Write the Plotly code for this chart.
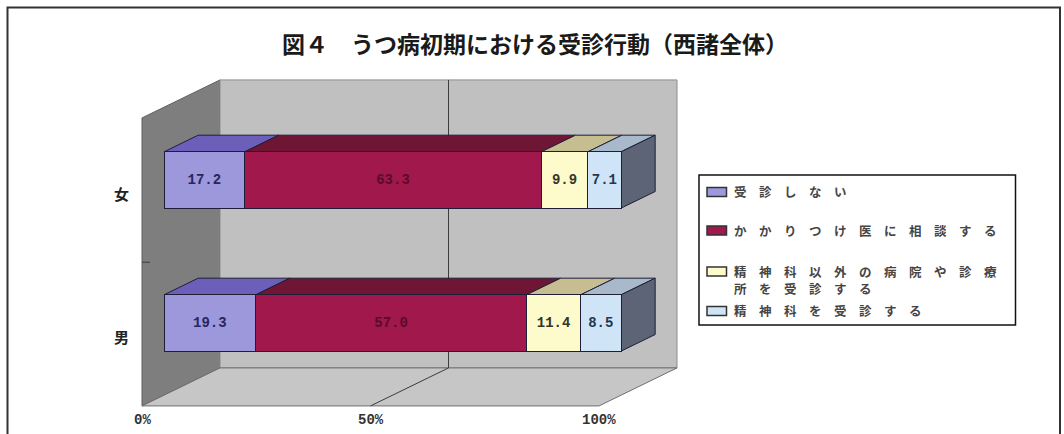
import plotly.graph_objects as go

# ---- data ---------------------------------------------------------------
categories = ["女", "男"]                      # listed top to bottom
series_names = [
    "受診しない",
    "かかりつけ医に相談する",
    "精神科以外の病院や診療所を受診する",
    "精神科を受診する",
]
female = [17.2, 63.3, 9.9, 7.1]
male = [19.3, 57.0, 11.4, 8.5]
tick_values = [0, 50, 100]
tick_labels = ["0%", "50%", "100%"]
title_text = "図４　うつ病初期における受診行動（西諸全体）"

values_by_cat = {"女": female, "男": male}

# ---- styling ------------------------------------------------------------
front_colors = ["#9d98dc", "#a0184c", "#fdfacb", "#cfe5f7"]
top_colors = ["#6b5fba", "#6e1634", "#c6bd90", "#a7b9ca"]
side_color = "#5d6476"
label_colors = ["#262660", "#5a0c28", "#35352a", "#263650"]
edge_color = "#1e1e38"

W, H = 1064, 434
M_L, M_R, M_T, M_B = 120, 364, 60, 22
PLOT_W = W - M_L - M_R
PLOT_H = H - M_T - M_B

# pixel calibration of the bar front plane
X0_PX, PX_PER_PCT = 164.0, 4.57
Y0_PX, PX_PER_CAT = 323.0, 143.0
X_RANGE = [(M_L - X0_PX) / PX_PER_PCT, (W - M_R - X0_PX) / PX_PER_PCT]
Y_RANGE = [(Y0_PX - (H - M_B)) / PX_PER_CAT, (Y0_PX - M_T) / PX_PER_CAT]

# oblique depth: full depth shifts right / up
DEPTH_X = 78.0 / PX_PER_PCT
DEPTH_Y = 38.0 / PX_PER_CAT
F_FRONT, F_BACK = 0.282, 0.72
BAR_WIDTH = 0.394
Y_FLOOR, Y_TOP = -0.505, 1.509
CJK = "Noto Sans CJK JP"
MONO = "Liberation Mono"
WRAP_AT = 11  # legend labels longer than this wrap onto a second line


def proj(x, y, f):
    """Point (x %, y category, depth f) -> axis coordinates."""
    return x + (f - F_FRONT) * DEPTH_X, y + (f - F_FRONT) * DEPTH_Y


def poly(points):
    pts = [f"{x:.4f},{y:.4f}" for x, y in points]
    return "M " + " L ".join(pts) + " Z"


def line_path(points):
    pts = [f"{x:.4f},{y:.4f}" for x, y in points]
    return "M " + " L ".join(pts)


def px_x(px):
    return (px - M_L) / PLOT_W


def px_y(py):
    return (H - M_B - py) / PLOT_H


def spaced(s):
    return "\u3000".join(s)


n_cat = len(categories)
cat_y = {c: n_cat - 1 - i for i, c in enumerate(categories)}

fig = go.Figure()

# ---- front faces: 100% stacked bars --------------------------------------
for j, name in enumerate(series_names):
    xs = [values_by_cat[c][j] for c in categories]
    ys = [cat_y[c] for c in categories]
    fig.add_trace(go.Bar(
        x=xs, y=ys, orientation="h", name=name, width=BAR_WIDTH,
        marker=dict(color=front_colors[j], line=dict(color=edge_color, width=1)),
        text=xs, texttemplate="%{text:.1f}", textposition="inside",
        insidetextanchor="middle", textangle=0, constraintext="none",
        textfont=dict(family=MONO, size=14, color=label_colors[j], weight="bold"),
        showlegend=False, hoverinfo="skip",
    ))

shapes = []

# ---- walls and floor -----------------------------------------------------
shapes.append(dict(type="path", xref="x", yref="y", layer="below",
                   path=poly([proj(0, Y_FLOOR, 0), proj(0, Y_TOP, 0),
                              proj(0, Y_TOP, 1), proj(0, Y_FLOOR, 1)]),
                   fillcolor="#7e7e7e", line=dict(color="#5e5e5e", width=1)))
shapes.append(dict(type="path", xref="x", yref="y", layer="below",
                   path=poly([proj(0, Y_FLOOR, 1), proj(0, Y_TOP, 1),
                              proj(100, Y_TOP, 1), proj(100, Y_FLOOR, 1)]),
                   fillcolor="#c0c0c0", line=dict(color="#8c8c8c", width=1)))
shapes.append(dict(type="path", xref="x", yref="y", layer="below",
                   path=poly([proj(0, Y_FLOOR, 0), proj(100, Y_FLOOR, 0),
                              proj(100, Y_FLOOR, 1), proj(0, Y_FLOOR, 1)]),
                   fillcolor="#c6c6c6", line=dict(color="#707070", width=1)))

# gridline at 50% (back wall + floor)
shapes.append(dict(type="path", xref="x", yref="y", layer="below",
                   path=line_path([proj(50, Y_TOP, 1), proj(50, Y_FLOOR, 1),
                                   proj(50, Y_FLOOR, 0)]),
                   line=dict(color="#3c3c3c", width=1)))

# category boundary tick on the wall edge
for k in range(n_cat - 1):
    bx, by = proj(0, k + 0.5, 0)
    shapes.append(dict(type="line", xref="x", yref="y", layer="below",
                       x0=bx, y0=by, x1=bx + 8 / PX_PER_PCT, y1=by,
                       line=dict(color="#3c3c3c", width=1)))

# ---- top and side faces of the bars --------------------------------------
hw = BAR_WIDTH / 2
for c in categories:
    vals = values_by_cat[c]
    total = sum(vals)
    y = cat_y[c]
    cum = 0.0
    for j, v in enumerate(vals):
        x0 = cum / total * 100
        cum += v
        x1 = cum / total * 100
        shapes.append(dict(type="path", xref="x", yref="y", layer="below",
                           path=poly([proj(x0, y + hw, F_FRONT), proj(x1, y + hw, F_FRONT),
                                      proj(x1, y + hw, F_BACK), proj(x0, y + hw, F_BACK)]),
                           fillcolor=top_colors[j], line=dict(color=edge_color, width=1)))
    shapes.append(dict(type="path", xref="x", yref="y", layer="below",
                       path=poly([proj(100, y - hw, F_FRONT), proj(100, y + hw, F_FRONT),
                                  proj(100, y + hw, F_BACK), proj(100, y - hw, F_BACK)]),
                       fillcolor=side_color, line=dict(color=edge_color, width=1)))

# ---- outer frame -----------------------------------------------------------
shapes.append(dict(type="rect", xref="paper", yref="paper",
                   x0=px_x(7.5), x1=px_x(1060), y0=px_y(440), y1=px_y(7.5),
                   line=dict(color="#333333", width=2), fillcolor="rgba(0,0,0,0)"))

# ---- legend box --------------------------------------------------------------
shapes.append(dict(type="rect", xref="paper", yref="paper",
                   x0=px_x(699), x1=px_x(1015.5), y0=px_y(325), y1=px_y(175),
                   line=dict(color="#111111", width=1.5), fillcolor="white"))

annotations = []
legend_rows = [191.5, 230.0, 271.0, 310.5]
LEGEND_LINE_GAP = 17.5
legend_font = dict(family=CJK, size=12.5, color="#454545", weight="bold")
for j, name in enumerate(series_names):
    ry = legend_rows[j]
    shapes.append(dict(type="rect", xref="paper", yref="paper",
                       x0=px_x(707), x1=px_x(726.5), y0=px_y(ry + 5), y1=px_y(ry - 4),
                       fillcolor=front_colors[j], line=dict(color="#333333", width=1.5)))
    lines = [name[i:i + WRAP_AT] for i in range(0, len(name), WRAP_AT)]
    for k, part in enumerate(lines):
        annotations.append(dict(xref="paper", yref="paper", x=px_x(732),
                                y=px_y(ry + k * LEGEND_LINE_GAP),
                                xanchor="left", yanchor="middle", align="left",
                                text=spaced(part), showarrow=False, font=legend_font))

# ---- value-axis labels on the floor edge -------------------------------------
for v, lab in zip(tick_values, tick_labels):
    ax, ay = proj(v, Y_FLOOR, 0)
    annotations.append(dict(xref="x", yref="y", x=ax, y=ay, yshift=-14,
                            text=lab, showarrow=False,
                            font=dict(family=MONO, size=14, color="#333333", weight="bold")))

# ---- category labels ----------------------------------------------------------
for c in categories:
    ax, ay = proj(0, cat_y[c], 0)
    annotations.append(dict(xref="x", yref="y", x=ax, y=ay, xshift=-21, yshift=-3,
                            text=c, showarrow=False,
                            font=dict(family=CJK, size=15, color="#222222", weight="bold")))

# ---- title -------------------------------------------------------------------------
annotations.append(dict(xref="paper", yref="paper", x=px_x(535), y=px_y(43),
                        xanchor="center", yanchor="middle", text=title_text,
                        showarrow=False,
                        font=dict(family=CJK, size=23, color="#1a1a1a", weight="bold")))

fig.update_layout(
    width=W, height=H, autosize=False,
    margin=dict(l=M_L, r=M_R, t=M_T, b=M_B, pad=0),
    paper_bgcolor="white", plot_bgcolor="white",
    barmode="stack", barnorm="percent",
    xaxis=dict(range=X_RANGE, visible=False, fixedrange=True),
    yaxis=dict(range=Y_RANGE, visible=False, fixedrange=True),
    shapes=shapes, annotations=annotations,
    uniformtext=dict(minsize=14, mode="show"),
    showlegend=False,
)

fig.write_html("out.html")
